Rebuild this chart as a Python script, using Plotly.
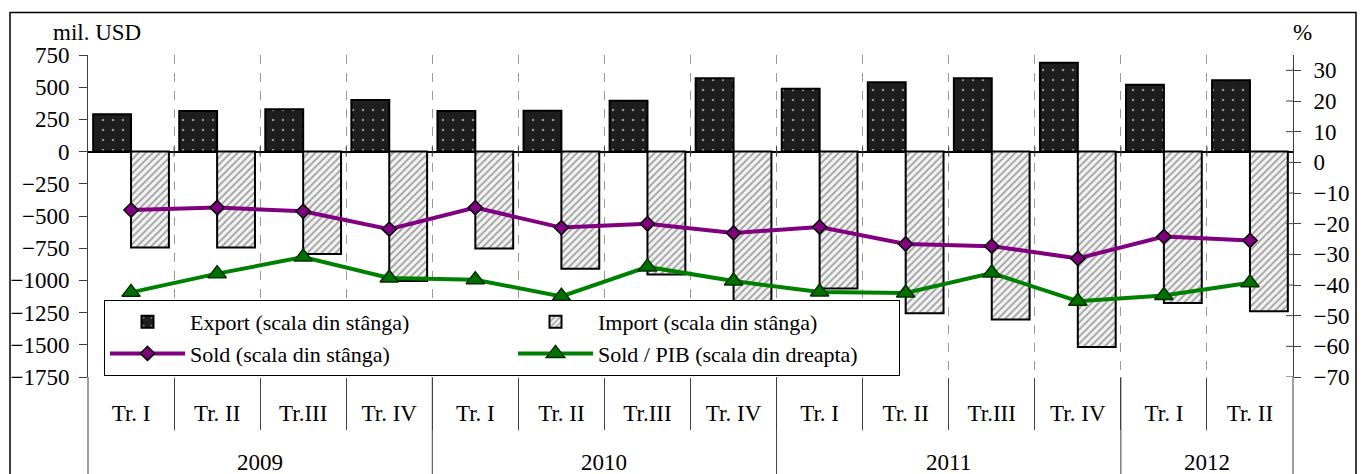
import plotly.graph_objects as go

# ---- date ----
years = ['2009'] * 4 + ['2010'] * 4 + ['2011'] * 4 + ['2012'] * 2
quarters = ['Tr. I', 'Tr. II', 'Tr.III', 'Tr. IV'] * 3 + ['Tr. I', 'Tr. II']

export_vals = [290, 315, 328, 400, 315, 317, 395, 569, 488, 538, 569, 690, 519, 553]
import_vals = [-744, -745, -796, -1004, -752, -910, -954, -1206, -1063, -1255, -1304, -1517, -1175, -1239]
sold_vals = [-454, -434, -464, -602, -435, -590, -560, -632, -585, -718, -734, -829, -660, -690]
sold_pib = [-42.4, -36.3, -30.9, -37.7, -38.3, -43.7, -34.1, -38.7, -42.3, -42.6, -36.1, -45.3, -43.4, -39.3]

left_ticks = list(range(-1750, 751, 250))
right_ticks = list(range(-70, 31, 10))
left_range = [-1750, 750]
right_range = [-70, 35]

# ---- geometrie (pixeli in fereastra; pagina are margine de 8 px) ----
OFF = 8
W, H = 1365 - OFF, 474 - OFF
L, R, T, B = 88, 1293, 55, 377


def fx(px):
    return (px - L) / (R - L)


def fy(py):
    return (B - py) / (B - T)


FONT = dict(family='Liberation Serif, Times New Roman, serif', size=23, color='black')
LEG_FONT = dict(FONT, size=22)
AXC = '#404040'

idx = list(range(len(quarters)))
bounds = [i + 0.5 for i in idx[:-1]]
year_bounds = [i - 0.5 for i in idx[1:] if years[i] != years[i - 1]]

fig = go.Figure()
fig.add_trace(go.Bar(
    x=idx, y=export_vals, name='Export (scala din stânga)', legendwidth=318,
    marker=dict(color='#1e1e1e', line=dict(color='black', width=2),
                pattern=dict(shape='.', fgcolor='white', bgcolor='#1e1e1e', size=10, solidity=0.05))
))
fig.add_trace(go.Bar(
    x=idx, y=import_vals, name='Import (scala din stânga)', legendwidth=296,
    marker=dict(color='#f2f2f2', line=dict(color='black', width=2),
                pattern=dict(shape='/', fgcolor='#555555', bgcolor='#f4f4f4', size=5, solidity=0.4))
))
fig.add_trace(go.Scatter(
    x=idx, y=sold_vals, name='Sold (scala din stânga)', mode='lines+markers', legendwidth=318,
    line=dict(color='#800080', width=4),
    marker=dict(symbol='diamond', size=11, color='#800080', line=dict(color='black', width=1.5))
))
fig.add_trace(go.Scatter(
    x=idx, y=sold_pib, yaxis='y2', name='Sold / PIB (scala din dreapta)', mode='lines+markers',
    legendwidth=296,
    line=dict(color='#008000', width=4),
    marker=dict(symbol='triangle-up', size=16, color='#007000', line=dict(color='#003000', width=1.5))
))

shapes = []
# liniile verticale care coboara in zona etichetelor
for xb in year_bounds:
    shapes.append(dict(type='line', xref='x', yref='paper', x0=xb, x1=xb, y0=fy(490), y1=0,
                       line=dict(color=AXC, width=1)))
for xp in (0, 1):
    shapes.append(dict(type='line', xref='paper', yref='paper', x0=xp, x1=xp, y0=fy(490), y1=0,
                       line=dict(color=AXC, width=1)))
# tick-uri mici pe linia de zero, intre trimestre
zero_frac = (0 - left_range[0]) / (left_range[1] - left_range[0])
for xb in bounds:
    shapes.append(dict(type='line', xref='x', yref='paper', x0=xb, x1=xb,
                       y0=zero_frac - 5 / (B - T), y1=zero_frac + 5 / (B - T),
                       line=dict(color=AXC, width=1)))
# tick-uri "cross" pe axa din dreapta (partea interioara)
for t in right_ticks:
    shapes.append(dict(type='line', xref='paper', yref='y2', x0=fx(R - 7), x1=1, y0=t, y1=t,
                       line=dict(color=AXC, width=1)))
# chenarul exterior
shapes.append(dict(type='rect', xref='paper', yref='paper', x0=fx(10), x1=fx(1356),
                   y0=fy(495), y1=fy(12.5), line=dict(color='black', width=1.5)))

annotations = [
    dict(text='mil. USD', xref='paper', yref='paper', x=fx(97), y=fy(33),
         xanchor='center', yanchor='middle', showarrow=False, font=FONT),
    dict(text='%', xref='paper', yref='paper', x=fx(1302), y=fy(33),
         xanchor='center', yanchor='middle', showarrow=False, font=FONT),
]
for yr in dict.fromkeys(years):
    pos = [i for i in idx if years[i] == yr]
    annotations.append(dict(text=yr, xref='x', yref='paper', x=sum(pos) / len(pos), y=fy(462),
                            xanchor='center', yanchor='middle', showarrow=False, font=FONT))

fig.update_layout(
    width=W, height=H,
    margin=dict(l=L - OFF, r=W - (R - OFF), t=T - OFF, b=H - (B - OFF), pad=0, autoexpand=False),
    paper_bgcolor='white', plot_bgcolor='white',
    font=FONT,
    barmode='group', bargap=0.12, bargroupgap=0,
    showlegend=True,
    legend=dict(orientation='h', x=fx(104), y=fy(376), xanchor='left', yanchor='bottom',
                bgcolor='white', bordercolor='black', borderwidth=1,
                itemwidth=75, font=LEG_FONT, traceorder='normal'),
    xaxis=dict(range=[-0.5, len(idx) - 0.5], tickmode='array', tickvals=idx, ticktext=quarters,
               automargin=False,
               showgrid=False, zeroline=False, showline=False, ticks='',
               ticklabelstandoff=20, tickfont=FONT,
               minor=dict(tickvals=bounds, showgrid=True, gridcolor='#9a9a9a', griddash='dash',
                          gridwidth=1, ticks='outside', ticklen=52, tickcolor=AXC, tickwidth=1)),
    yaxis=dict(range=left_range, tickmode='array', tickvals=left_ticks, automargin=False,
               showgrid=False, zeroline=True, zerolinecolor='black', zerolinewidth=1.5,
               showline=True, linecolor=AXC, linewidth=1, ticklabelstandoff=5,
               ticks='outside', ticklen=8, tickcolor=AXC, tickfont=FONT),
    yaxis2=dict(range=right_range, tickmode='array', tickvals=right_ticks, automargin=False,
                overlaying='y', side='right', anchor='x',
                showgrid=False, zeroline=False, showline=True, linecolor=AXC, linewidth=1,
                ticklabelstandoff=8,
                ticks='outside', ticklen=7, tickcolor=AXC, tickfont=FONT),
    shapes=shapes,
    annotations=annotations,
)

fig.write_html('out.html')
